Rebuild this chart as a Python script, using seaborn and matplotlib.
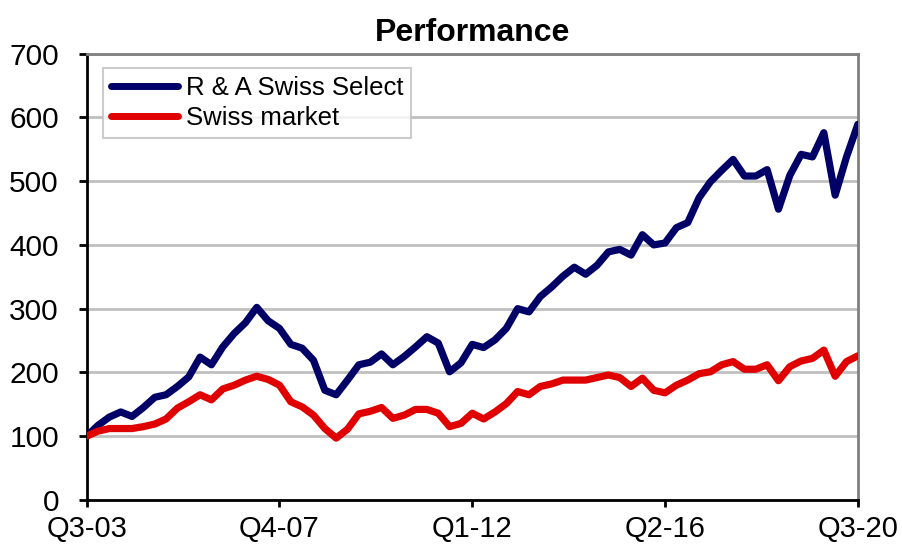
import numpy as np
import pandas as pd
import seaborn as sns
import matplotlib.pyplot as plt

# Quarterly index values, Q3-03 = 100
select = [100, 117, 130, 138, 131, 145, 161, 165, 178, 193,
          224, 212, 240, 261, 278, 302, 281, 269, 244, 238,
          219, 172, 165, 188, 212, 216, 229, 212, 225, 240,
          256, 246, 201, 215, 244, 239, 251, 269, 300, 295,
          319, 334, 351, 365, 354, 368, 389, 393, 384, 416,
          400, 403, 427, 435, 474, 499, 517, 534, 508, 508,
          518, 456, 509, 542, 538, 576, 478, 538, 589]
market = [100, 108, 112, 112, 112, 115, 119, 127, 144, 154,
          165, 157, 174, 180, 188, 194, 189, 180, 154, 146,
          133, 112, 97, 111, 135, 139, 145, 128, 133, 142,
          142, 136, 115, 120, 136, 127, 138, 151, 170, 165,
          178, 182, 188, 188, 188, 192, 196, 192, 178, 191,
          172, 168, 180, 188, 198, 201, 212, 217, 205, 205,
          212, 187, 209, 218, 222, 235, 194, 217, 226]

tick_pos = [0, 17, 34, 51, 68]
tick_labels = ["Q3-03", "Q4-07", "Q1-12", "Q2-16", "Q3-20"]

df = pd.DataFrame({
    "quarter": list(range(len(select))) * 2,
    "value": select + market,
    "series": ["R & A Swiss Select"] * len(select) + ["Swiss market"] * len(market),
})

sns.set_style("white")
plt.rcParams["font.family"] = ["Liberation Sans", "DejaVu Sans"]
plt.rcParams["text.color"] = "black"

fig = plt.figure(figsize=(9.03, 5.47), dpi=100)
ax = fig.add_axes([0.096, 0.086, 0.854, 0.816])

sns.lineplot(data=df, x="quarter", y="value", hue="series",
             palette=["#000066", "#e00000"], linewidth=5.2, ax=ax,
             solid_joinstyle="round", solid_capstyle="round", zorder=3)

ax.set_xlim(0, 68)
ax.set_ylim(0, 700)
ax.set_yticks(range(0, 701, 100))
ax.set_xticks(tick_pos)
ax.set_xticklabels(tick_labels)
ax.set_xlabel("")
ax.set_ylabel("")

ax.yaxis.grid(True, color="#c0c0c0", linewidth=2)
ax.set_axisbelow(True)

for side in ["left", "bottom"]:
    ax.spines[side].set_color("black")
    ax.spines[side].set_linewidth(2)
for side in ["top", "right"]:
    ax.spines[side].set_color("#808080")
    ax.spines[side].set_linewidth(2)

ax.tick_params(axis="y", direction="out", length=6, width=2, pad=14,
               labelsize=21.5, colors="black", left=True)
ax.tick_params(axis="x", direction="out", length=5, width=2, pad=6,
               labelsize=21, colors="black", bottom=True)

ax.set_title("Performance", fontsize=23, fontweight="bold", color="black", pad=9)

leg = ax.legend(loc="upper left", bbox_to_anchor=(0.021, 0.9675),
                borderaxespad=0, fontsize=18.5, frameon=True, fancybox=False,
                handlelength=2.6, handletextpad=0.3, labelspacing=0.22,
                borderpad=0.32, edgecolor="#c0c0c0")
leg.get_frame().set_linewidth(1.5)
for line in leg.get_lines():
    line.set_linewidth(5)
for txt in leg.get_texts():
    txt.set_color("black")

fig.savefig("out.png", dpi=100)
